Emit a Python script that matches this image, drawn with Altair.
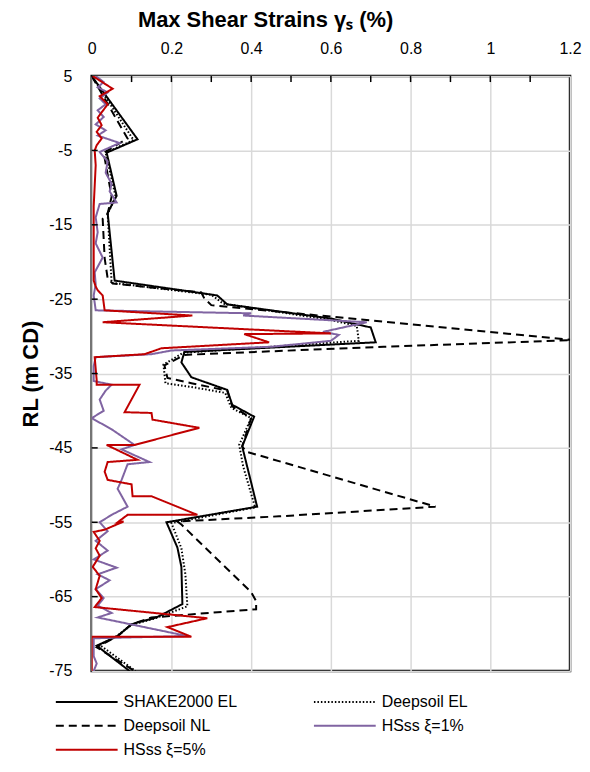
import altair as alt
import pandas as pd

SERIES = ["SHAKE2000 EL", "Deepsoil EL", "Deepsoil NL", "HSss ξ=1%", "HSss ξ=5%"]
COLORS = ["#000000", "#000000", "#000000", "#8064a2", "#c00000"]
DASHES = [[1, 0], [1.5, 2], [8, 5], [1, 0], [1, 0]]

shake_x = [0, 0.115, 0.0375, 0.0625, 0.04, 0.0575, 0.315, 0.34, 0.60, 0.70, 0.7125, 0.2325, 0.225,
           0.25, 0.34, 0.3525, 0.4075, 0.3775, 0.415, 0.1875, 0.215, 0.225, 0.2275, 0.1625, 0.10,
           0.065, 0.0125, 0.095]
shake_y = [5, -3.5, -5.3, -11.1, -13.4, -22.5, -24.5, -25.7, -27.6, -28.8, -30.8, -32.1, -33.5,
           -35.5, -37.2, -39.2, -40.8, -44.8, -52.9, -55.0, -58.4, -61.0, -66.0, -67.8, -68.7,
           -70.3, -71.6, -75]

del_x = [0, 0.105, 0.035, 0.06, 0.04, 0.05, 0.30, 0.33, 0.60, 0.665, 0.67, 0.23, 0.18, 0.185,
         0.25, 0.335, 0.35, 0.40, 0.37, 0.38, 0.41, 0.20, 0.225, 0.235, 0.24, 0.16, 0.10, 0.06,
         0.02, 0.11]
del_y = [5, -3.6, -5.3, -11.2, -13.5, -22.8, -24.4, -25.6, -27.8, -28.6, -30.6, -32.2, -33.8,
         -36.3, -36.8, -37.6, -39.6, -41.0, -44.6, -47.5, -53.0, -55.1, -58.5, -62.0, -66.3,
         -67.9, -68.8, -70.4, -71.5, -75]

dnl_x = [0, 0.09, 0.03, 0.05, 0.04, 0.0275, 0.0325, 0.04, 0.0525, 0.275, 0.2825, 0.30, 1.21,
         0.7325, 0.315, 0.2325, 0.1825, 0.19, 0.25, 0.34, 0.3525, 0.40, 0.3775, 0.3875, 0.8625,
         0.47, 0.215, 0.225, 0.40, 0.4125, 0.4125, 0.15, 0.10, 0.065, 0.0125, 0.1075]
dnl_y = [5, -3.4, -5.3, -11.2, -13.5, -14.2, -19.5, -22.2, -22.9, -24.1, -24.9, -25.8, -30.5,
         -31.4, -32.3, -32.5, -33.9, -35.6, -36.3, -37.3, -39.4, -41.0, -44.8, -45.5, -52.9,
         -54.2, -54.9, -55.3, -64.4, -65.6, -66.7, -67.8, -68.7, -70.3, -71.8, -75]

hs1_x = [0.01, 0.03, 0.015, 0.04, 0.02, 0.035, 0.015, 0.03, 0.01, 0.035, 0.015, 0.07, 0.02, 0.04,
         0.035, 0.05, 0.045, 0.0625, 0.02, 0.01, 0.015, 0.01, 0.0275, 0.0075, 0.01, 0.005, 0.01,
         0.40, 0.38, 0.69, 0.58, 0.62, 0.60, 0.45, 0.20, 0.15, 0.01, 0.005, 0.005, 0.05, 0.035,
         0.02, 0.03, 0.0, 0.05, 0.1075, 0.075, 0.145, 0.09, 0.075, 0.065, 0.09, 0.05, 0.02, 0.04,
         0.01, 0.04, 0.005, 0.0625, 0.015, 0.045, 0.01, 0.03, 0.015, 0.05, 0.015, 0.24, 0.005,
         0.005, 0.0125, 0.005]
hs1_y = [5, 4.2, 3.5, 2.8, 2.0, 1.2, 0.4, -0.5, -1.5, -2.3, -3.0, -4.0, -5.2, -6.5,
         -8.0, -9.5, -10.5, -12.0, -12.2, -14.0, -16.0, -17.5, -19.4, -21.4, -23.0, -24.5, -26.5,
         -26.9, -27.2, -28.1, -29.4, -29.8, -30.6, -31.4, -31.9, -32.4, -32.8, -34.0, -36.0, -36.5, -37.3,
         -38.5, -40.0, -41.0, -42.5, -44.6, -45.2, -46.9, -47.2, -49.3, -50.5, -52.9, -54.0, -55.0, -56.2,
         -57.5, -58.8, -60.0, -61.1, -62.0, -62.8, -64.0, -65.2, -66.2, -67.2, -67.8, -70.3, -70.6,
         -73.0, -74.0, -75]

hs5_x = [0.0025, 0.0525, 0.02, 0.04, 0.015, 0.025, 0.0125, 0.025, 0.0125, 0.0075, 0.01, 0.005,
         0.005, 0.005, 0.01, 0.015, 0.0275, 0.0325, 0.2525, 0.0275, 0.60, 0.3825, 0.445, 0.175,
         0.1325, 0.0075, 0.0125, 0.0125, 0.12, 0.0825, 0.15, 0.1525, 0.27, 0.1075, 0.0375, 0.115,
         0.04, 0.0325, 0.04, 0.10, 0.1025, 0.15, 0.265, 0.09, 0.065, 0.08, 0.0325, 0.005, 0.02,
         0.01, 0.02, 0.0025, 0.02, 0.01, 0.025, 0.0075, 0.29, 0.19, 0.25, 0.0, 0.0]
hs5_y = [5, 3.3, 2.3, 1.2, -0.6, -1.6, -2.5, -3.4, -4.3, -5.0, -7.0, -12.5,
         -15.0, -22.5, -23.3, -23.8, -24.5, -26.5, -27.2, -28.1, -29.6, -29.7, -30.8, -31.6,
         -32.4, -32.8, -35.9, -36.5, -36.5, -40.2, -40.3, -41.2, -42.3, -44.6, -44.6, -46.6,
         -46.9, -48.2, -49.3, -49.9, -51.5, -51.5, -54.0, -54.0, -55.0, -54.9, -56.0, -56.3, -57.5,
         -58.5, -59.5, -61.0, -62.2, -64.0, -65.2, -66.4, -67.9, -69.1, -70.4, -70.4, -75]

x_ticks = [0, 0.2, 0.4, 0.6, 0.8, 1, 1.2]
y_ticks = [5, -5, -15, -25, -35, -45, -55, -65, -75]
x_minor = [0.1, 0.2, 0.3, 0.4, 0.5, 0.6, 0.7, 0.8, 0.9, 1.0, 1.1]
y_minor = [-5, -15, -25, -35, -45, -55, -65]

rows = []
for name, xs, ys in zip(SERIES, [shake_x, del_x, dnl_x, hs1_x, hs5_x],
                        [shake_y, del_y, dnl_y, hs1_y, hs5_y]):
    for i, (xv, yv) in enumerate(zip(xs, ys)):
        rows.append({"series": name, "x": xv, "y": yv, "idx": i})
df = pd.DataFrame(rows)

FONT = "Liberation Sans"
xscale = alt.Scale(domain=[0, 1.2], nice=False, zero=False)
yscale = alt.Scale(domain=[-75, 5], nice=False, zero=False)


def make_legend():
    return alt.Legend(title=None, orient="none", legendX=-37, legendY=620,
                      columns=2, direction="horizontal", columnPadding=73, rowPadding=8,
                      symbolType="M-31,0H31", symbolSize=4, symbolOffset=24,
                      symbolStrokeWidth=2, labelFont=FONT, labelFontSize=16,
                      labelColor="#000000", labelOffset=29, padding=0)


color = alt.Color("series:N", scale=alt.Scale(domain=SERIES, range=COLORS), legend=make_legend())
dash = alt.StrokeDash("series:N", scale=alt.Scale(domain=SERIES, range=DASHES), legend=make_legend())

xaxis = alt.Axis(orient="top", values=x_ticks, labelExpr="toString(datum.value)",
                 title="Max Shear Strains γₛ (%)",
                 grid=True, gridColor="#d9d9d9", gridWidth=1.5, ticks=False, tickSize=0,
                 domain=False, labelFont=FONT, labelFontSize=16, labelColor="#000000",
                 labelPadding=20, titleFont=FONT, titleFontSize=22, titleFontWeight="bold",
                 titleColor="#000000", titleX=174, titleY=-50, titleAlign="center",
                 titleBaseline="alphabetic", labelFlush=False)
yaxis = alt.Axis(values=y_ticks, labelExpr="toString(datum.value)", title="RL (m CD)",
                 grid=True, gridColor="#d9d9d9",
                 gridWidth=1.5, ticks=False, tickSize=0, domain=False, labelFont=FONT,
                 labelFontSize=16, labelColor="#000000", labelPadding=20, titleFont=FONT,
                 titleFontSize=22, titleFontWeight="bold", titleColor="#000000",
                 titlePadding=6, labelFlush=False)

layers = []
for i, name in enumerate(SERIES):
    enc = dict(order="idx:Q", color=color, strokeDash=dash)
    if i == 0:
        enc["x"] = alt.X("x:Q", scale=xscale, axis=xaxis)
        enc["y"] = alt.Y("y:Q", scale=yscale, axis=yaxis)
    else:
        enc["x"] = alt.X("x:Q", scale=xscale)
        enc["y"] = alt.Y("y:Q", scale=yscale)
    layers.append(
        alt.Chart(df).transform_filter(alt.datum.series == name)
        .mark_line(strokeWidth=2, clip=True, strokeJoin="miter").encode(**enc)
    )

xt = alt.Chart(pd.DataFrame({"t": x_minor})).mark_rule(color="black", strokeWidth=1.5).encode(
    x=alt.X("t:Q", scale=xscale), y=alt.value(0), y2=alt.value(6))
yt = alt.Chart(pd.DataFrame({"t": y_minor})).mark_rule(color="black", strokeWidth=1.5).encode(
    y=alt.Y("t:Q", scale=yscale), x=alt.value(0), x2=alt.value(6))

chart = alt.layer(*layers, xt, yt).properties(
    width=480, height=597,
    autosize=alt.AutoSizeParams(type="none"),
    padding={"left": 84, "top": 67, "right": 12, "bottom": 90},
    background="white",
).configure_view(stroke="#000000", strokeWidth=2.5)

chart.save("out.html", embed_options={"renderer": "svg", "actions": False})
